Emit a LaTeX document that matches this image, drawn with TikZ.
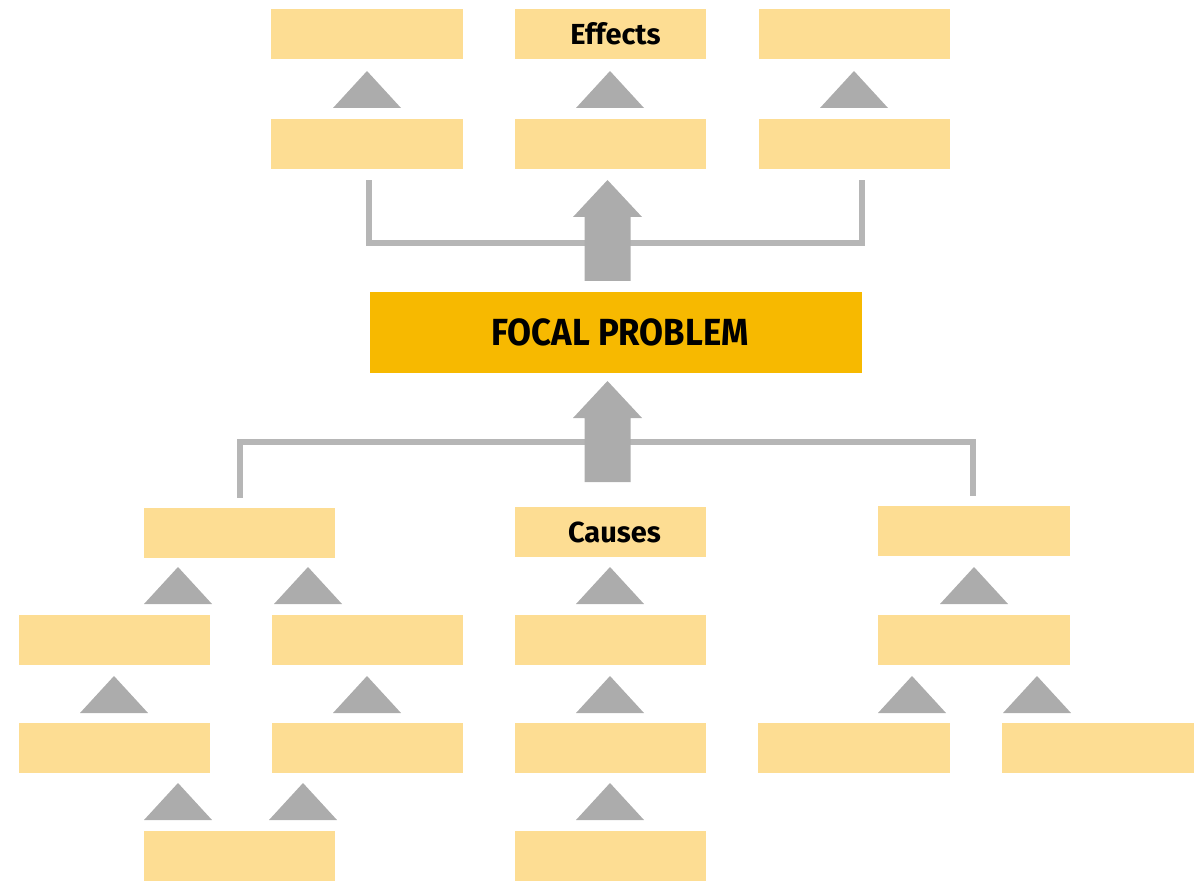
\documentclass[tikz,border=0pt]{standalone}
\usepackage{fontspec}
\newfontfamily\labelfont{Fira Sans Bold}
\newfontfamily\focalfont[FakeStretch=0.92]{Fira Sans Bold}
\definecolor{boxyellow}{RGB}{253,221,147}
\definecolor{focalyellow}{RGB}{247,185,0}
\definecolor{arrowgray}{RGB}{172,172,172}
\definecolor{linegray}{RGB}{182,182,182}
\tikzset{
  ybox/.style={fill=boxyellow, draw=none, inner sep=0pt,
    minimum width=3.84cm, minimum height=1cm},
  boxtext/.style={font=\labelfont\fontsize{16.5}{18}\selectfont},
  focalbox/.style={fill=focalyellow, draw=none, inner sep=0pt,
    minimum width=9.84cm, minimum height=1.62cm},
  focaltext/.style={font=\focalfont\fontsize{21.5}{24}\selectfont},
  tri/.style={fill=arrowgray, draw=none},
  bigarrow/.style={fill=arrowgray, draw=none},
  link/.style={draw=linegray, line width=0.12cm, line cap=butt, line join=miter}
}
% small upward triangle: apex x, apex y (pixel units, y down)
\newcommand{\uptri}[2]{\fill[tri] (#1,#2) -- (#1+34,#2+37) -- (#1-34,#2+37) -- cycle;}
% wide upward block arrow: centre x, apex y
\newcommand{\blockarrow}[2]{\fill[bigarrow] (#1,#2) -- (#1+34.5,#2+37) -- (#1+23,#2+37) -- (#1+23,#2+101)
  -- (#1-23,#2+101) -- (#1-23,#2+37) -- (#1-34.5,#2+37) -- cycle;}
\begin{document}
\begin{tikzpicture}[x=0.02cm,y=-0.02cm]
\useasboundingbox (0,0) rectangle (1199,881);

% effects
\node[ybox] (E1a) at (367,34) {};
\node[ybox] (E2a) at (610.5,34) {};
\node[boxtext] (Etxt) at ([xshift=0.1cm]E2a.center) {Effects};
\node[ybox] (E3a) at (854.5,34) {};
\node[ybox] (E1b) at (367,144) {};
\node[ybox] (E2b) at (610.5,144) {};
\node[ybox] (E3b) at (854.5,144) {};
\uptri{367}{71}
\uptri{610}{71}
\uptri{854}{71}

% focal problem
\node[focalbox] (F) at (616,332.5) {};
\node[focaltext] (Ftxt) at ([xshift=0.08cm]F.center) {FOCAL PROBLEM};

% causes, left branch
\node[ybox] (L1) at (239.5,533) {};
\node[ybox] (L2a) at (114.5,640) {};
\node[ybox] (L2b) at (367.5,640) {};
\node[ybox] (L3a) at (114.5,748) {};
\node[ybox] (L3b) at (367.5,748) {};
\node[ybox] (L4) at (239.5,856) {};
% causes, middle branch
\node[ybox] (M1) at (610.5,532) {};
\node[boxtext] (Mtxt) at ([xshift=0.08cm]M1.center) {Causes};
\node[ybox] (M2) at (610.5,640) {};
\node[ybox] (M3) at (610.5,748) {};
\node[ybox] (M4) at (610.5,856) {};
% causes, right branch
\node[ybox] (R1) at (974,531) {};
\node[ybox] (R2) at (974,640) {};
\node[ybox] (R3a) at (854,748) {};
\node[ybox] (R3b) at (1098,748) {};

\uptri{178}{567}
\uptri{308}{567}
\uptri{610}{567}
\uptri{974}{567}
\uptri{114}{676}
\uptri{367}{676}
\uptri{610}{676}
\uptri{912}{676}
\uptri{1037}{676}
\uptri{178}{783}
\uptri{303}{783}
\uptri{610}{783}

% brackets
\coordinate (ta) at ([xshift=0.04cm,yshift=-0.22cm]E1b.south);
\coordinate (tb) at ([xshift=0.14cm,yshift=-0.22cm]E3b.south);
\draw[link] (ta) -- ++(0,63) -| (tb);
\coordinate (ba) at ([yshift=0.2cm]L1.north);
\coordinate (bb) at ([xshift=-0.02cm,yshift=0.2cm]R1.north);
\draw[link] (ba) -- ++(0,-56) -| (bb);

% block arrows
\blockarrow{607.5}{180}
\blockarrow{607.5}{381}
\end{tikzpicture}
\end{document}
